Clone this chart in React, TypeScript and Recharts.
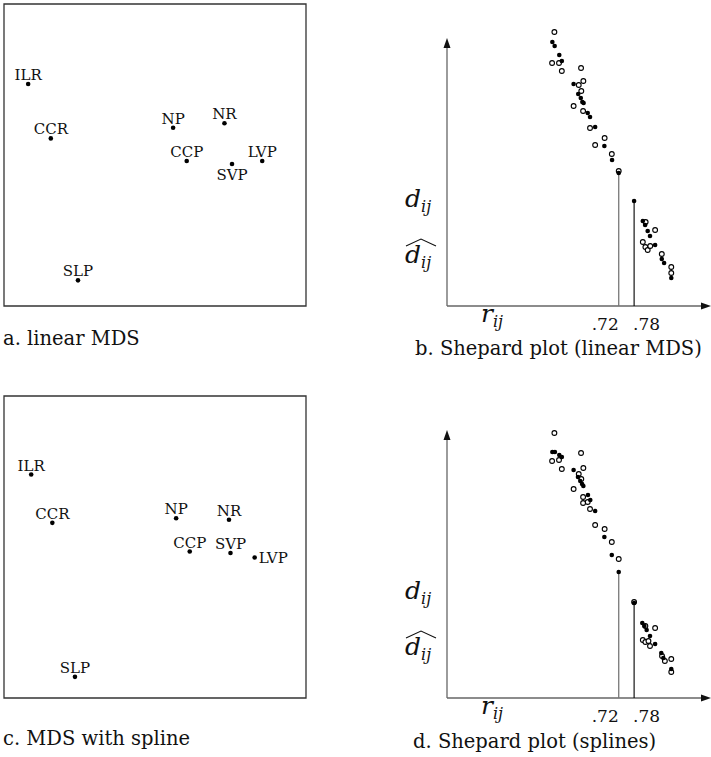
import React from 'react';
import {
  ReferenceArea,
  ReferenceLine,
  Scatter,
  ScatterChart,
  XAxis,
  YAxis,
} from 'recharts';

const FONT = '"DejaVu Serif", "Liberation Serif", serif';
const serif = { fontFamily: FONT };

// stimuli and their MDS coordinates
const STIMULI = ['ILR', 'CCR', 'NP', 'NR', 'CCP', 'SVP', 'LVP', 'SLP'];
const LINEAR_X = [-0.84, -0.69, 0.12, 0.46, 0.21, 0.51, 0.71, -0.51];
const LINEAR_Y = [0.47, 0.11, 0.18, 0.21, -0.04, -0.06, -0.04, -0.83];
const SPLINE_X = [-0.82, -0.68, 0.14, 0.49, 0.23, 0.5, 0.66, -0.53];
const SPLINE_Y = [0.48, 0.16, 0.19, 0.18, -0.03, -0.04, -0.07, -0.86];

// Shepard plot (linear MDS): r_ij vs d_ij (filled) and d-hat_ij (open)
const LIN_D_R = [
  0.461, 0.47, 0.488, 0.498, 0.544, 0.562, 0.572, 0.578, 0.583, 0.599, 0.608, 0.628, 0.664, 0.694, 0.72,
  0.78, 0.814, 0.823, 0.833, 0.842, 0.862, 0.888, 0.897, 0.925,
];
const LIN_D = [
  2.64, 2.6, 2.51, 2.45, 2.22, 2.12, 2.08, 2.04, 2.03, 1.93, 1.89, 1.79, 1.6, 1.46, 1.33,
  1.05, 0.85, 0.81, 0.75, 0.7, 0.61, 0.47, 0.43, 0.28,
];
const LIN_DHAT_R = [
  0.469, 0.46, 0.487, 0.498, 0.573, 0.582, 0.564, 0.574, 0.544, 0.581, 0.608, 0.665, 0.628, 0.693, 0.72,
  0.825, 0.862, 0.814, 0.824, 0.833, 0.843, 0.888, 0.925, 0.925,
];
const LIN_DHAT = [
  2.74, 2.43, 2.43, 2.35, 2.38, 2.25, 2.21, 2.15, 2.0, 1.95, 1.78, 1.68, 1.61, 1.52, 1.35,
  0.84, 0.76, 0.64, 0.59, 0.56, 0.6, 0.52, 0.39, 0.33,
];

// Shepard plot (splines)
const SPL_D_R = [
  0.461, 0.471, 0.488, 0.498, 0.544, 0.561, 0.57, 0.577, 0.582, 0.6, 0.609, 0.628, 0.664, 0.693, 0.72,
  0.78, 0.812, 0.82, 0.829, 0.842, 0.862, 0.886, 0.894, 0.925,
];
const SPL_D = [
  2.46, 2.46, 2.43, 2.41, 2.28, 2.21, 2.17, 2.14, 2.12, 2.03, 1.98, 1.87, 1.61, 1.43, 1.26,
  0.95, 0.75, 0.72, 0.68, 0.62, 0.54, 0.45, 0.4, 0.29,
];
const SPL_DHAT_R = [
  0.469, 0.573, 0.46, 0.487, 0.498, 0.582, 0.564, 0.574, 0.544, 0.581, 0.599, 0.581, 0.608, 0.628, 0.665, 0.693, 0.72,
  0.78, 0.824, 0.862, 0.814, 0.824, 0.836, 0.842, 0.889, 0.9, 0.925, 0.925,
];
const SPL_DHAT = [
  2.65, 2.45, 2.37, 2.38, 2.29, 2.3, 2.24, 2.19, 2.09, 2.01, 1.96, 1.95, 1.89, 1.73, 1.69, 1.56, 1.39,
  0.96, 0.72, 0.7, 0.58, 0.56, 0.57, 0.52, 0.42, 0.37, 0.39, 0.26,
];

const R_TICKS = [0.72, 0.78];
const R_DOMAIN: [number, number] = [0.05, 1.08];
const D_DOMAIN: [number, number] = [0, 2.8];
const D_AXIS_TOP = 2.68;

const zip = (xs: number[], ys: number[]) => xs.map((x, i) => ({ x, y: ys[i] }));

const ConfigDot = (placement: Record<string, string>) => (props: any) => {
  const { cx, cy, payload } = props;
  const where = placement[payload.name] ?? 'above';
  let tx = cx;
  let ty = cy - 4;
  let anchor: 'middle' | 'start' = 'middle';
  if (where === 'below') ty = cy + 16;
  if (where === 'right') {
    tx = cx + 4;
    ty = cy + 5.5;
    anchor = 'start';
  }
  return (
    <g>
      <text x={tx} y={ty} textAnchor={anchor} style={serif} fontSize={15} fill="#111">
        {payload.name}
      </text>
      <circle cx={cx} cy={cy} r={2.3} fill="#000" />
    </g>
  );
};

function ConfigPlot({ xs, ys, placement }: { xs: number[]; ys: number[]; placement: Record<string, string> }) {
  const data = STIMULI.map((name, i) => ({ name, x: xs[i], y: ys[i] }));
  return (
    <ScatterChart width={310} height={310} margin={{ top: 4, right: 4, bottom: 4, left: 4 }}>
      <XAxis type="number" dataKey="x" domain={[-1, 1]} hide />
      <YAxis type="number" dataKey="y" domain={[-1, 1]} hide />
      <ReferenceArea x1={-1} x2={1} y1={-1} y2={1} fill="none" stroke="#333" strokeWidth={1.3} />
      <Scatter data={data} shape={ConfigDot(placement)} isAnimationActive={false} />
    </ScatterChart>
  );
}

const ArrowLine = (props: any) => {
  const { x1, y1, x2, y2 } = props;
  const len = Math.hypot(x2 - x1, y2 - y1) || 1;
  const ux = (x2 - x1) / len;
  const uy = (y2 - y1) / len;
  const bx = x2 - ux * 10;
  const by = y2 - uy * 10;
  const px = -uy * 3.5;
  const py = ux * 3.5;
  return (
    <g>
      <line x1={x1} y1={y1} x2={bx} y2={by} stroke="#666" strokeWidth={1.3} />
      <polygon points={`${x2},${y2} ${bx + px},${by + py} ${bx - px},${by - py}`} fill="#111" />
    </g>
  );
};

const RTick = (props: any) => {
  const { x, y, payload } = props;
  const first = payload.value === R_TICKS[0];
  return (
    <text
      x={first ? x : x - 1}
      y={y + 16}
      textAnchor={first ? 'end' : 'start'}
      style={serif}
      fontSize={17}
      fill="#111"
    >
      {String(payload.value).replace(/^0/, '')}
    </text>
  );
};

const filledDot = (p: any) => <circle cx={p.cx} cy={p.cy} r={2.3} fill="#000" />;
const openDot = (p: any) => (
  <circle cx={p.cx} cy={p.cy} r={2.4} fill="#fff" stroke="#000" strokeWidth={1.1} />
);

function ShepardPlot({
  dR,
  d,
  hR,
  h,
}: {
  dR: number[];
  d: number[];
  hR: number[];
  h: number[];
}) {
  const dist = zip(dR, d);
  const dhat = zip(hR, h);
  const lowLeft = d[dR.indexOf(R_TICKS[0])];
  const highRight = d[dR.indexOf(R_TICKS[1])];
  return (
    <ScatterChart width={331} height={340} margin={{ top: 26, right: 0, bottom: 4, left: 67 }}>
      <XAxis
        type="number"
        dataKey="x"
        domain={R_DOMAIN}
        ticks={R_TICKS}
        interval={0}
        tick={RTick}
        axisLine={false}
        tickLine={false}
        height={30}
        allowDataOverflow
      />
      <YAxis type="number" dataKey="y" domain={D_DOMAIN} hide allowDataOverflow />
      <ReferenceLine
        segment={[{ x: R_DOMAIN[0], y: 0 }, { x: R_DOMAIN[0], y: D_AXIS_TOP }]}
        shape={ArrowLine}
      />
      <ReferenceLine
        segment={[{ x: R_DOMAIN[0], y: 0 }, { x: R_DOMAIN[1], y: 0 }]}
        shape={ArrowLine}
      />
      <ReferenceLine
        segment={[{ x: R_TICKS[0], y: 0 }, { x: R_TICKS[0], y: lowLeft }]}
        stroke="#777"
        strokeWidth={1.3}
      />
      <ReferenceLine
        segment={[{ x: R_TICKS[1], y: 0 }, { x: R_TICKS[1], y: highRight }]}
        stroke="#000"
        strokeWidth={1.1}
      />
      <Scatter data={dhat} shape={openDot} isAnimationActive={false} />
      <Scatter data={dist} shape={filledDot} isAnimationActive={false} />
    </ScatterChart>
  );
}

function Labels({ dy }: { dy: number }) {
  const t = { ...serif, fontStyle: 'italic' as const };
  return (
    <g fill="#111">
      <text x={405} y={207 + dy} fontSize={25} style={t}>
        d<tspan fontSize={16} dy={5}>ij</tspan>
      </text>
      <text x={405} y={263 + dy} fontSize={25} style={t}>
        d<tspan fontSize={16} dy={5}>ij</tspan>
      </text>
      <polyline
        points={`${406},${246 + dy} ${421},${239 + dy} ${436},${246 + dy}`}
        fill="none"
        stroke="#111"
        strokeWidth={1.1}
      />
      <text x={481} y={322 + dy} fontSize={25} style={t}>
        r<tspan fontSize={16} dy={5}>ij</tspan>
      </text>
    </g>
  );
}

export default function App() {
  return (
    <div style={{ position: 'absolute', left: 0, top: 0, width: 711, height: 757, background: '#fff' }}>
      <div style={{ position: 'absolute', left: 0, top: 0 }}>
        <ConfigPlot xs={LINEAR_X} ys={LINEAR_Y} placement={{ SVP: 'below' }} />
      </div>
      <div style={{ position: 'absolute', left: 0, top: 392 }}>
        <ConfigPlot xs={SPLINE_X} ys={SPLINE_Y} placement={{ LVP: 'right' }} />
      </div>
      <div style={{ position: 'absolute', left: 380, top: 0 }}>
        <ShepardPlot dR={LIN_D_R} d={LIN_D} hR={LIN_DHAT_R} h={LIN_DHAT} />
      </div>
      <div style={{ position: 'absolute', left: 380, top: 392 }}>
        <ShepardPlot dR={SPL_D_R} d={SPL_D} hR={SPL_DHAT_R} h={SPL_DHAT} />
      </div>
      <svg
        width={711}
        height={757}
        style={{ position: 'absolute', left: 0, top: 0, pointerEvents: 'none' }}
      >
        <g fill="#111" fontSize={19.5} style={serif}>
          <text x={3} y={345} style={serif}>a. linear MDS</text>
          <text x={415} y={355} style={serif}>b. Shepard plot (linear MDS)</text>
          <text x={3} y={745} style={serif}>c. MDS with spline</text>
          <text x={413} y={748} style={serif}>d. Shepard plot (splines)</text>
        </g>
        <Labels dy={0} />
        <Labels dy={392} />
      </svg>
    </div>
  );
}
